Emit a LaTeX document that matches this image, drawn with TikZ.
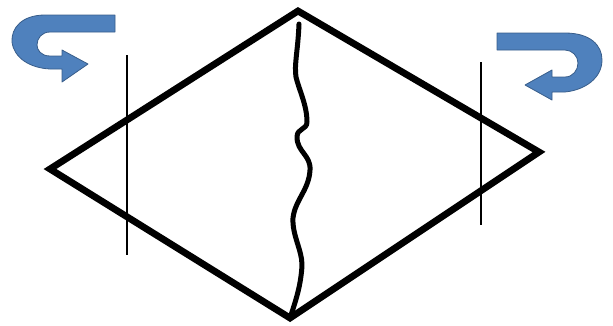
\documentclass[tikz,border=0pt]{standalone}
\usepackage{tikz}
\definecolor{turnblue}{RGB}{79,129,189}
\definecolor{turnedge}{RGB}{56,93,138}
\begin{document}
\begin{tikzpicture}[x=1pt,y=-1pt,edge/.style={line width=6.8pt,line join=miter},cut/.style={line width=5pt,line cap=round,line join=round},rule/.style={line width=1.1pt},turn/.style={fill=turnblue,draw=turnedge,line width=.8pt,line join=round}]
\useasboundingbox (0,0) rectangle (613,325);
\coordinate (top) at (298,11);\coordinate (left) at (50,169);
\coordinate (bot) at (290,318);\coordinate (right) at (539,152);
\draw[edge] (top)--(left)--(bot)--(right)--cycle;
% wavy split from top to bottom
\draw[cut] (299,24) .. controls (298,50) and (294,65) .. (296,77) .. controls (299,90) and (307,105) .. (307,122) .. controls (307,130) and (297,128) .. (297,137) .. controls (297,152) and (311,155) .. (310,170) .. controls (309,190) and (295,200) .. (293,218) .. controls (292,235) and (302,250) .. (302,265) .. controls (301,285) and (296,300) .. (bot);
\draw[rule] (127,55)--(127,255);
\draw[rule] (481,62)--(481,225);
% turning arrows
\draw[turn] (115,15) -- (45,15) .. controls (22,15) and (11,28) .. (12,42) .. controls (14,58) and (30,68) .. (50,69) -- (62,69) -- (62,82) -- (88,64) -- (62,50) -- (62,56) -- (50,56) .. controls (41,56) and (37,50) .. (37,45) .. controls (37,38) and (42,32) .. (50,32) -- (115,32) -- cycle;
\draw[turn] (497,33) -- (565,33) .. controls (590,33) and (602,45) .. (602,60) .. controls (602,78) and (585,90) .. (565,92) -- (552,92) -- (552,100) -- (525,85) -- (552,70) -- (552,77) -- (565,77) .. controls (573,77) and (578,70) .. (578,63) .. controls (578,56) and (572,50) .. (565,50) -- (497,50) -- cycle;
\end{tikzpicture}
\end{document}
